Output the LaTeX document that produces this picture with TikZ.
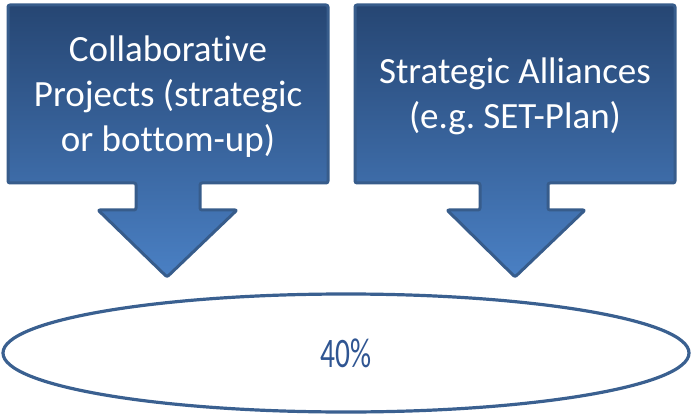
\documentclass[tikz,border=0pt]{standalone}
\usepackage{fontspec}
\setmainfont{Carlito}[Ligatures={NoCommon,NoContextual}]
\usepackage{xcolor}
\usetikzlibrary{shapes, calc, positioning}
\frenchspacing

\definecolor{boxtop}{HTML}{264673}
\definecolor{boxbot}{HTML}{4A80C4}
\definecolor{boxline}{HTML}{375C8B}
\definecolor{ringline}{HTML}{3A6090}
\definecolor{pcttext}{HTML}{2F5592}

\tikzset{
  callout/.style={draw=boxline, line width=3pt, rounded corners=2pt, top color=boxtop, bottom color=boxbot, line join=round},
  calltext/.style={text=white, align=center, font=\fontsize{37}{45}\selectfont},
  ring/.style={draw=ringline, line width=3.2pt, ellipse, minimum width=686pt, minimum height=118pt, inner sep=0pt}
}

\begin{document}
\begin{tikzpicture}[x=1pt, y=-1pt]
        \useasboundingbox (0,0) rectangle (692,419);

        % left callout
        \draw [callout] (8,5) -- (328,5) -- (328,183) -- (200,183) -- (200,210) -- (237,210) -- (167,277)
            -- (98,210) -- (136,210) -- (136,183) -- (8,183) -- cycle;
        \node [calltext] (collab) at (168,97) {Collaborative\\Projects (strategic\\or bottom-up)};

        % right callout
        \draw [callout] (355,5) -- (675,5) -- (675,183) -- (548,183) -- (548,210) -- (585,210) -- (515,277)
            -- (447,210) -- (480,210) -- (480,183) -- (355,183) -- cycle;
        \node [calltext] (alliance) at (515,96) {Strategic Alliances\\(e.g. SET-Plan)};

        % result
        \node [ring] (share) at (346,353) {};
        \node [text=pcttext, font=\fontsize{42}{44}\selectfont] (pct) at (share.center) {\scalebox{0.7}[1]{40\%}};
\end{tikzpicture}
\end{document}
